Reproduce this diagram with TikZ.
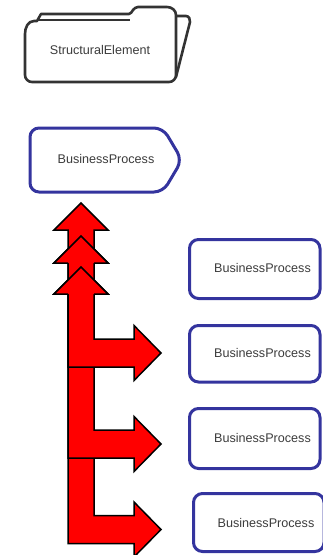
\documentclass[tikz,border=0pt]{standalone}
\usepackage{fontspec}
\setmainfont{Liberation Sans}
\usetikzlibrary{calc}
\definecolor{bpblue}{RGB}{52,52,158}
\definecolor{folderc}{RGB}{51,51,51}
\definecolor{txt}{RGB}{60,60,60}
\definecolor{arrred}{RGB}{255,0,0}
\tikzset{
  lbl/.style={font=\fontsize{12.6}{14}\selectfont, text=txt, inner sep=0pt},
  bpline/.style={draw=bpblue, line width=3pt, rounded corners=9pt},
  foldline/.style={draw=folderc, line width=2.6pt, line join=round},
  fatarrow/.style={fill=arrred, draw=black, line width=1.5pt, line join=miter},
}
\newcommand{\FatArrow}[2]{%
  % #1 = y of upward tip, #2 = y of centre of the right branch
  \path[fatarrow] (81,#1) -- (108,{#1+27}) -- (94,{#1+27}) -- (94,{#2-14}) -- (134,{#2-14})
    -- (134,{#2-27.5}) -- (161,#2) -- (134,{#2+27.5}) -- (134,{#2+14}) -- (68,{#2+14})
    -- (68,{#1+27}) -- (54,{#1+27}) -- cycle;
}
\newcommand{\UpHead}[1]{%
  \fill[arrred] (81,#1) -- (108,{#1+27}) -- (54,{#1+27}) -- cycle;
  \draw[fatarrow, fill=none] (68,{#1+27}) -- (54,{#1+27}) -- (81,#1) -- (108,{#1+27}) -- (94,{#1+27});
}
\begin{document}
\begin{tikzpicture}[x=1pt,y=-1pt]
\useasboundingbox (0,0) rectangle (322,555);

% StructuralElement folder
\path[foldline, fill=white] (176,16) -- (186,16) to[out=0,in=80] (190,22) -- (176,77);
\path[foldline, fill=white] (25,34) to[out=90,in=180] (34,21) -- (37,21) -- (41,14) -- (129,14)
  to[out=0,in=-135] (133,10) to[out=45,in=180] (138,7) -- (167,7) to[out=0,in=90] (176,15)
  -- (176,75) to[out=-90,in=0] (169,82) -- (32,82) to[out=180,in=-90] (25,75) -- cycle;
\draw[foldline] (38,20) -- (130,20);
\node[lbl] (se) at (100,50) {StructuralElement};

% top BusinessProcess (pointed)
\path[bpline, fill=white] (100,128) -- (30,128) -- (30,192) -- (163,192) -- (182,160) -- (163,128) -- cycle;
\node[lbl] (bp0) at (106,159) {BusinessProcess};

% right BusinessProcess boxes
\path[bpline] (189.5,239.5) rectangle (320,298.5);
\node[lbl] (bp1) at (262.5,268) {BusinessProcess};
\path[bpline] (189.5,325.5) rectangle (320,382);
\node[lbl] (bp2) at (262.5,353) {BusinessProcess};
\path[bpline] (189.5,408.5) rectangle (320,468.5);
\node[lbl] (bp3) at (262.5,438) {BusinessProcess};
\path[bpline] (193.5,493.5) rectangle (324,551.5);
\node[lbl] (bp4) at (266,523) {BusinessProcess};

% fat red connectors (drawn bottom-up, heads restacked on top)
\FatArrow{267}{529.5}
\FatArrow{236}{444}
\FatArrow{203}{353}
\UpHead{236}
\UpHead{267}
\end{tikzpicture}
\end{document}
